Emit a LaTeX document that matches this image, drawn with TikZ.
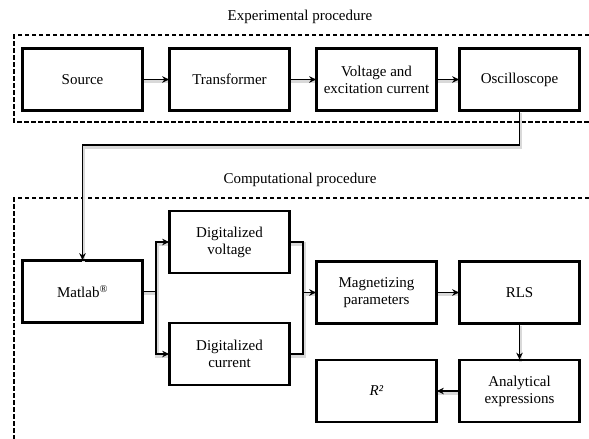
\documentclass[tikz,border=0pt]{standalone}
\usepackage{fontspec}
\setmainfont{Liberation Serif}
\usetikzlibrary{arrows.meta}
\begin{document}
\begin{tikzpicture}[x=1pt,y=-1pt,
  blk/.style={draw,line width=1.7pt,minimum width=119pt,minimum height=61pt,align=center,font=\fontsize{15}{17}\selectfont,inner sep=1pt},
  conn/.style={line width=1.7pt},
  arr/.style={line width=1.7pt,-{Stealth[length=7pt,width=6.5pt]}},
  shad/.style={line width=3.5pt,gray!30,transform canvas={shift={(1pt,-2pt)}}},
  frame/.style={line width=1.4pt,dash pattern=on 4.5pt off 2.5pt},
  lbl/.style={font=\fontsize{15}{17}\selectfont}]
\useasboundingbox (0,0) rectangle (589,439);
% frames
\draw[frame] (589,35) -- (14,35) -- (14,122) -- (589,122);
\draw[frame] (589,198) -- (14,198) -- (14,445);
\node[lbl] (t1) at (300,17) {Experimental procedure};
\node[lbl] (t2) at (300,180) {Computational procedure};
% top row
\node[blk] (src) at (82.5,79.5) {Source};
\node[blk] (tr) at (229.5,79.5) {Transformer};
\node[blk] (vc) at (376.5,79.5) {Voltage and\\excitation current};
\node[blk] (osc) at (519.5,79.5) {Oscilloscope};
% bottom
\node[blk] (mat) at (82.5,291.5) {Matlab\textsuperscript{®}};
\node[blk] (dv) at (229.5,242) {Digitalized\\voltage};
\node[blk] (dc) at (229.5,354) {Digitalized\\current};
\node[blk] (mag) at (376.5,292.5) {Magnetizing\\parameters};
\node[blk] (rls) at (519.5,292.5) {RLS};
\node[blk] (ana) at (519.5,391) {Analytical\\expressions};
\node[blk] (r2) at (376.5,391) {\textit{R²}};
\coordinate (b1) at (156,291.5);
\coordinate (b2) at (303,292.5);
% shadows
\draw[shad] (src.east) -- (tr.west);
\draw[shad] (tr.east) -- (vc.west);
\draw[shad] (vc.east) -- (osc.west);
\draw[shad] (osc.south) -- ++(0,34) -| (mat.north);
\draw[shad] (mat.east) -- (b1) |- (dv.west);
\draw[shad] (b1) |- (dc.west);
\draw[shad] (dv.east) -| (b2) -- (mag.west);
\draw[shad] (dc.east) -| (b2);
\draw[shad] (mag.east) -- (rls.west);
\draw[shad] (rls.south) -- (ana.north);
\draw[shad] (ana.west) -- (r2.east);
% connectors
\draw[arr] (src) -- (tr);
\draw[arr] (tr) -- (vc);
\draw[arr] (vc) -- (osc);
\draw[arr] (osc.south) -- ++(0,34) -| (mat.north);
\draw[conn] (mat.east) -- (b1);
\draw[arr] (b1) |- (dv.west);
\draw[arr] (b1) |- (dc.west);
\draw[conn] (dv.east) -| (b2);
\draw[conn] (dc.east) -| (b2);
\draw[arr] (b2) -- (mag.west);
\draw[arr] (mag) -- (rls);
\draw[arr] (rls) -- (ana);
\draw[arr] (ana) -- (r2);
% redraw boxes over shadows
\foreach \n in {src,tr,vc,osc,mat,dv,dc,mag,rls,ana,r2}{\draw[line width=1.7pt] (\n.north west) rectangle (\n.south east);}
\end{tikzpicture}
\end{document}
